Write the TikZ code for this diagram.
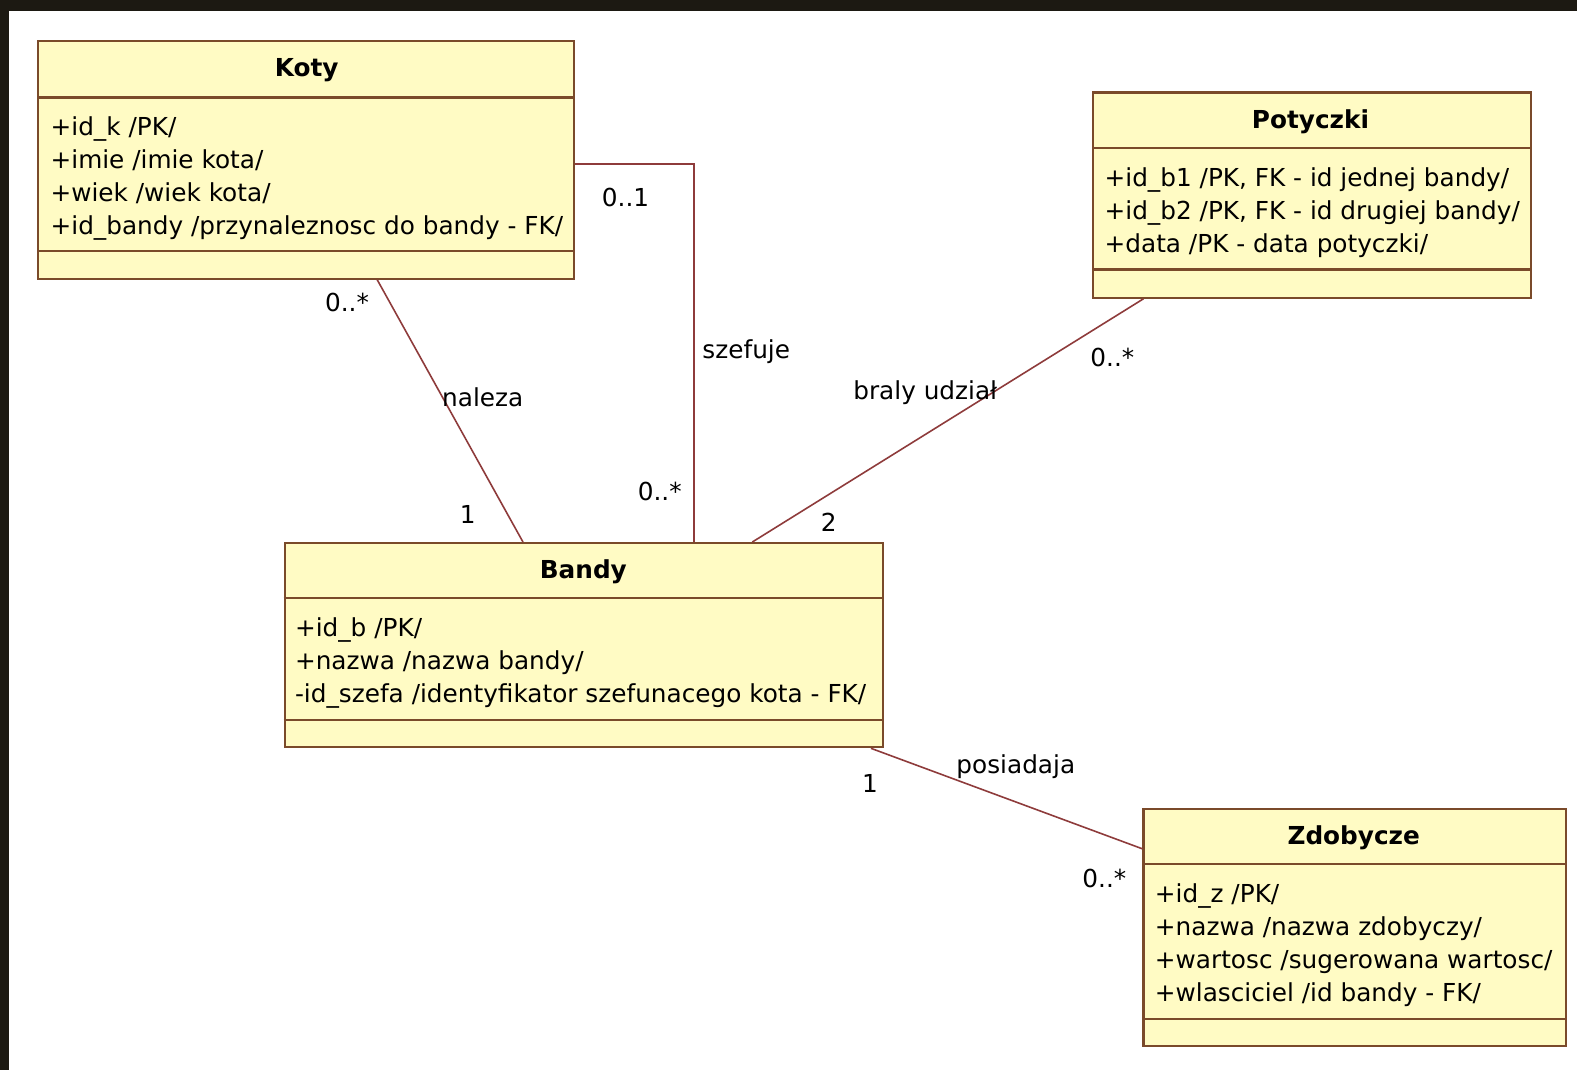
\documentclass[tikz,border=0pt]{standalone}
\usepackage{fontspec}
\setmainfont{DejaVu Sans}
\usepackage{tikz}
\usetikzlibrary{fit}
\usepackage{xcolor}
\definecolor{cls_fill}{HTML}{FFFBC4}
\definecolor{cls_line}{HTML}{7A4A2A}
\definecolor{assoc_red}{HTML}{8E3B3B}
\definecolor{frame_dark}{HTML}{1C1912}

\tikzset{
	umlclass/.style={draw=cls_line, fill=cls_fill, line width=1.2pt, inner sep=0pt},
	sepline/.style={draw=cls_line, line width=1.2pt},
	clstitle/.style={font=\fontsize{14}{18.7}\selectfont\bfseries, inner sep=0pt},
	attrs/.style={font=\fontsize{14}{18.7}\selectfont, align=left, inner sep=0pt, anchor=north west},
	assoc/.style={draw=assoc_red, line width=0.9pt},
	mult/.style={font=\fontsize{14}{16}\selectfont, inner sep=1pt}
}

\begin{document}
\begin{tikzpicture}[x=0.2mm, y=-0.2mm]
	\useasboundingbox (0, 0) rectangle (1568, 1064);
	\fill[white] (0, 0) rectangle (1568, 1064);
	\fill[frame_dark] (0, 0) rectangle (1568, 11);
	\fill[frame_dark] (0, 0) rectangle (9, 1064);

	\node[umlclass, fit={(38, 41) (571, 277)}] (koty) {};
	\draw[sepline] (koty.west |- 0, 97) -- (koty.east |- 0, 97);
	\draw[sepline] (koty.west |- 0, 250) -- (koty.east |- 0, 250);
	\node[clstitle] (kotyT) at (305, 70) {Koty};
	\node[attrs] (kotyA) at (50, 116) {+id\_k /PK/\\+imie /imie kota/\\+wiek /wiek kota/\\+id\_bandy /przynaleznosc do bandy - FK/};

	\node[umlclass, fit={(1087, 92) (1522, 296)}] (potyczki) {};
	\draw[sepline] (potyczki.west |- 0, 147) -- (potyczki.east |- 0, 147);
	\draw[sepline] (potyczki.west |- 0, 268) -- (potyczki.east |- 0, 268);
	\node[clstitle] (potyczkiT) at (1303, 121) {Potyczki};
	\node[attrs] (potyczkiA) at (1098, 166) {+id\_b1 /PK, FK - id jednej bandy/\\+id\_b2 /PK, FK - id drugiej bandy/\\+data /PK - data potyczki/};

	\node[umlclass, fit={(283, 540) (878, 743)}] (bandy) {};
	\draw[sepline] (bandy.west |- 0, 595) -- (bandy.east |- 0, 595);
	\draw[sepline] (bandy.west |- 0, 716) -- (bandy.east |- 0, 716);
	\node[clstitle] (bandyT) at (580, 569) {Bandy};
	\node[attrs] (bandyA) at (293, 614) {+id\_b /PK/\\+nazwa /nazwa bandy/\\-id\_szefa /identyfikator szefunacego kota - FK/};

	\node[umlclass, fit={(1137, 804) (1557, 1040)}] (zdobycze) {};
	\draw[sepline] (zdobycze.west |- 0, 859) -- (zdobycze.east |- 0, 859);
	\draw[sepline] (zdobycze.west |- 0, 1013) -- (zdobycze.east |- 0, 1013);
	\node[clstitle] (zdobyczeT) at (1346, 833) {Zdobycze};
	\node[attrs] (zdobyczeA) at (1148, 878) {+id\_z /PK/\\+nazwa /nazwa zdobyczy/\\+wartosc /sugerowana wartosc/\\+wlasciciel /id bandy - FK/};

	\draw[assoc] (koty.south -| 375, 0) -- (bandy.north -| 520, 0);
	\node[mult] (m1) at (345, 301) {0..*};
	\node[mult] (naleza) at (480, 395) {naleza};
	\node[mult] (m2) at (465, 512) {1};

	\draw[assoc] (koty.east |- 0, 163) -| (bandy.north -| 690, 0);
	\node[mult] (m3) at (622, 196) {0..1};
	\node[mult] (szefuje) at (742, 350) {szefuje};
	\node[mult] (m4) at (656, 489) {0..*};

	\draw[assoc] (potyczki.south -| 1137, 0) -- (bandy.north -| 748, 0);
	\node[mult] (m5) at (1106, 355) {0..*};
	\node[mult] (udzial) at (920, 390) {braly udział};
	\node[mult] (m6) at (824, 519) {2};

	\draw[assoc] (bandy.south -| 866, 0) -- (zdobycze.west |- 0, 844);
	\node[mult] (m7) at (865, 779) {1};
	\node[mult] (posiadaja) at (1010, 762) {posiadaja};
	\node[mult] (m8) at (1098, 873) {0..*};
\end{tikzpicture}
\end{document}
